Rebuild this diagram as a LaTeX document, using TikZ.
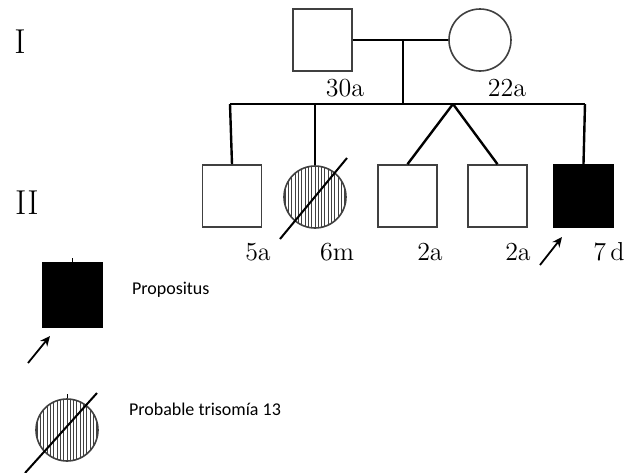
\documentclass[tikz,border=0pt]{standalone}
\usepackage{fontspec}
\newfontfamily\legendfont{Carlito}
\usetikzlibrary{positioning}
\usetikzlibrary{arrows.meta}
\tikzset{male/.style={rectangle, draw=black!75, thick, fill=white, minimum width=29.5pt, minimum height=31pt, inner sep=0pt}}
\tikzset{female/.style={circle, draw=black!75, thick, fill=white, minimum size=31pt, inner sep=0pt}}
\tikzset{affected/.style={fill=black, draw=black}}
\tikzset{hatched/.style={path picture={
    \foreach \i in {-20,...,20}
      \draw[line width=0.4pt] ([xshift=\i*1.65pt]path picture bounding box.south) -- ([xshift=\i*1.65pt]path picture bounding box.north);}}}
\tikzset{kinship/.style={line width=1.2pt}}
\tikzset{age/.style={font=\fontsize{13}{15}\selectfont}}
\tikzset{marker/.style={line width=0.9pt, -{Stealth[length=5pt,width=4.5pt]}}}

\begin{document}
\begin{tikzpicture}[x=0.5pt, y=-0.5pt]
    \useasboundingbox (0,0) rectangle (629,473);

    % generations
    \node[font=\LARGE]   (genI)     at (20,42)       {I};
    \node[font=\LARGE]   (genII)    at (27,203)      {II};

    % parents
    \node[male]          (father)   at (322.5,40)    {};
    \node[female]        (mother)   at (480,40)      {};
    \node[age]           (agef)     at (345,88)      {30a};
    \node[age]           (agem)     at (507,88)      {22a};

    % children
    \node[male]          (c1)       at (232,196)     {};
    \node[female,hatched] (c2)      at (315,197)     {};
    \node[male]          (c3)       at (407.5,196)   {};
    \node[male]          (c4)       at (497.5,196)   {};
    \node[male,affected] (c5)       at (583.5,196)   {};
    \node[age]           (age1)     at (258,252)     {5a};
    \node[age]           (age2)     at (337,252)     {6m};
    \node[age]           (age3)     at (430,252)     {2a};
    \node[age]           (age4)     at (518,252)     {2a};
    \node[age]           (age5)     at (609,252)     {7\,d};

    \coordinate (mid)  at (403,40);
    \coordinate (sib)  at (403,104);
    \coordinate (sibl) at (230,104);
    \coordinate (sibr) at (585,104);
    \coordinate (twin) at (453,104);

    \draw[kinship] (father.east) -- (mother.west);
    \draw[kinship] (mid) -- (sib);
    \draw[kinship] (sibl) -- (sibr);
    \draw[kinship] (sibl) -- (c1.north);
    \draw[kinship] (c2.north |- sibl) -- (c2.north);
    \draw[kinship] (twin) -- (c3.north);
    \draw[kinship] (twin) -- (c4.north);
    \draw[kinship] (sibr) -- (c5.north);

    \draw[line width=1pt] ([shift={(-35,42)}]c2.center) -- ([shift={(32,-39)}]c2.center);
    \draw[marker] ([shift={(-43.5,69)}]c5.center) -- ([shift={(-21.5,41)}]c5.center);

    % legend
    \node[male,affected, minimum height=32pt] (keyprop)  at (72.5,295)  {};
    \node[female,hatched]                     (keytri)   at (67,430)    {};
    \node[anchor=west, font=\legendfont\small] (txtprop) at (125,290)   {Propositus};
    \node[anchor=west, font=\legendfont\small] (txttri)  at (122,409)   {Probable trisomía 13};

    \draw[thin] (keyprop.north) -- ++(0,-4);
    \draw[thin] (keytri.north) -- ++(0,-4);
    \draw[marker] ([shift={(-44.5,68)}]keyprop.center) -- ([shift={(-22.5,41)}]keyprop.center);
    \draw[line width=1pt] ([shift={(-42,43)}]keytri.center) -- ([shift={(30,-37)}]keytri.center);
\end{tikzpicture}
\end{document}
